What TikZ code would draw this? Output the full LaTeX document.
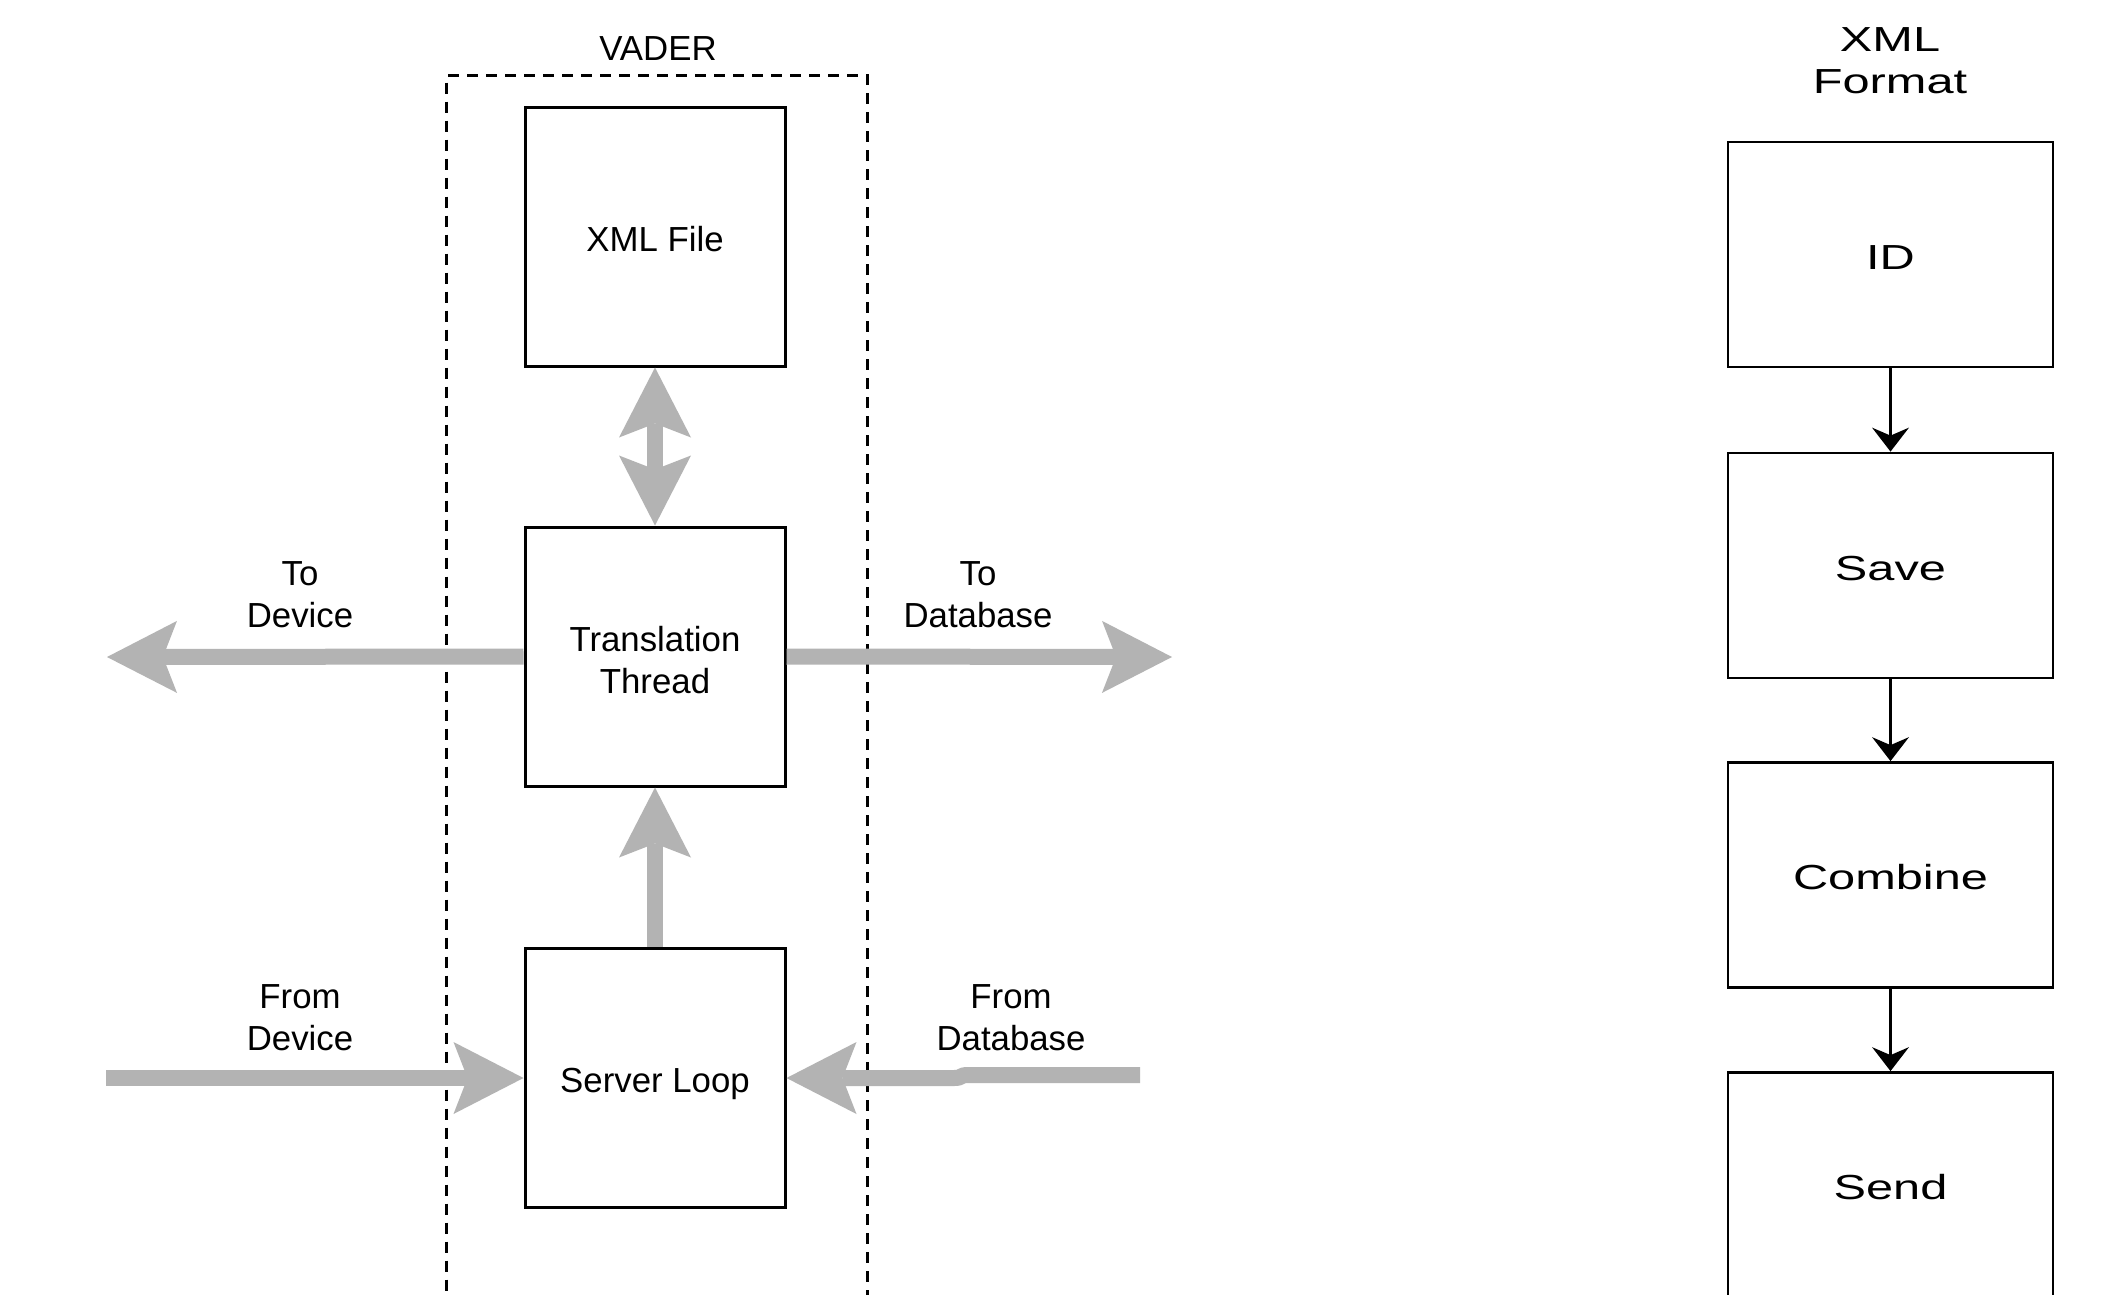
\documentclass[tikz,border=0pt]{standalone}
\usepackage{fontspec}
\setmainfont{Liberation Sans}
\newfontfamily\widesans[FakeStretch=1.4]{Liberation Sans}
\usetikzlibrary{arrows.meta}
\definecolor{flowgray}{RGB}{179,179,179}

\tikzset{
  fathead/.tip={Stealth[length=70pt,width=72pt,inset=14pt,line width=0pt]},
  thinhead/.tip={Stealth[length=24pt,width=37pt,inset=8pt,line width=0pt]},
  txt/.style={font=\fontsize{34.8pt}{41.7pt}\selectfont, align=center, inner sep=0pt},
  widetxt/.style={font=\widesans\fontsize{34.8pt}{41.7pt}\selectfont, align=center, inner sep=0pt},
  vbox/.style={txt, draw, line width=3pt, minimum width=260pt, minimum height=259pt,
    text height=29pt, text depth=0pt},
  fmtbox/.style={widetxt, draw, line width=2.8pt, minimum width=325pt, minimum height=225pt,
    text height=29pt, text depth=0pt},
  frame/.style={draw, line width=3pt, dash pattern=on 11pt off 8pt},
  fat/.style={draw=flowgray, line width=16pt},
  flow/.style={draw=black, line width=3.3pt, -thinhead},
}

\begin{document}
\begin{tikzpicture}[x=1pt, y=-1pt]
  \fill[white] (0,0) rectangle (2107,1294);
  \useasboundingbox (0,0) rectangle (2107,1294);
  \clip (0,0) rectangle (2107,1294);

  % VADER container (open towards the bottom edge)
  \node[frame, anchor=north west, minimum width=421pt, minimum height=1260pt, inner sep=0pt] (vader) at (445,74) {};
  \node[txt, anchor=base] (vaderlbl) at (658,60) {VADER};

  % inner components
  \node[vbox] (xml) at (655,236.5) {XML File};
  \node[vbox, text height=73pt] (tt)  at (655,656.5) {Translation\\Thread};
  \node[vbox] (sl)  at (655,1078) {Server Loop};

  % free ends of the external flows
  \coordinate (todev)   at (107,657);
  \coordinate (todb)    at (1172,657);
  \coordinate (fromdev) at (106,1078);
  \coordinate (fromdb)  at (1140,1075);

  % gray data flows
  \draw[fat, fathead-fathead] (tt.north) -- (xml.south);
  \draw[fat, -fathead] (sl.north) -- (tt.south);
  \draw[fat, -fathead] (tt.west) -- (todev);
  \draw[fat, -fathead] (tt.east) -- (todb);
  \draw[fat, -fathead] (fromdev) -- (sl.west);
  \draw[fat, -fathead] (fromdb) -- (968,1075) .. controls (959,1075) and (963,1078) .. (954,1078) -- (sl.east);

  % flow labels
  \node[txt] (ltodev)   at (300,595)    {To\\Device};
  \node[txt] (ltodb)    at (978,595)    {To\\Database};
  \node[txt] (lfromdev) at (300,1017.5) {From\\Device};
  \node[txt] (lfromdb)  at (1011,1017.5) {From\\Database};

  % XML format pipeline
  \node[widetxt] (fmt) at (1890,60.5) {XML\\Format};
  \node[fmtbox] (id)      at (1890.5,254.5) {ID};
  \node[fmtbox] (save)    at (1890.5,565.5) {Save};
  \node[fmtbox] (combine) at (1890.5,875)   {Combine};
  \node[fmtbox] (send)    at (1890.5,1185)  {Send};

  \draw[flow] (id) -- (save);
  \draw[flow] (save) -- (combine);
  \draw[flow] (combine) -- (send);
\end{tikzpicture}
\end{document}
